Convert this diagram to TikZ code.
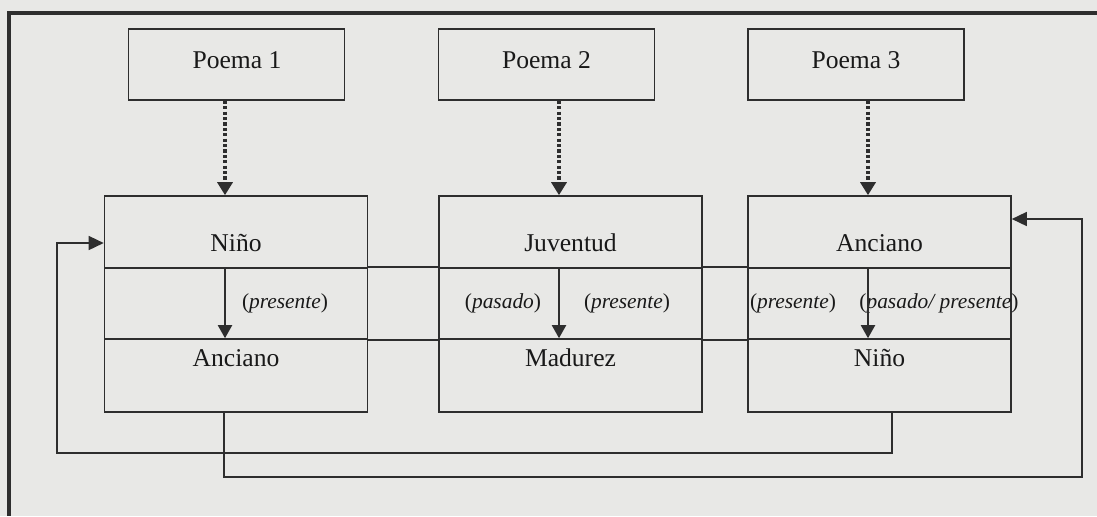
\documentclass[tikz,border=0pt]{standalone}
\usepackage{fontspec}
\setmainfont{Liberation Serif}
\usetikzlibrary{arrows.meta}
\definecolor{paper}{HTML}{E8E8E6}
\definecolor{ink}{HTML}{2E2E2E}
\begin{document}
\begin{tikzpicture}[x=0.5pt,y=-0.5pt,
  box/.style={draw=ink,line width=0.8pt,inner sep=0pt},
  poemabox/.style={box,minimum width=108pt,minimum height=35.5pt},
  rowbox/.style={box,minimum width=131.5pt},
  rowtop/.style={rowbox,minimum height=36pt},
  rowmid/.style={rowbox,minimum height=35.5pt},
  rowbot/.style={rowbox,minimum height=36.5pt},
  word/.style={font=\fontsize{12.8}{15}\selectfont,text=black!90,inner sep=0pt,anchor=base},
  tense/.style={font=\fontsize{10.7}{13}\selectfont,text=black!90,inner sep=0pt,anchor=base},
  dotarrow/.style={draw=ink,line width=1.8pt,dash pattern=on 1.6pt off 1.1pt,
    -{Triangle[length=6.5pt,width=7.5pt]}},
  solidarrow/.style={draw=ink,line width=1pt,-{Triangle[length=6.5pt,width=7pt]}},
  wire/.style={draw=ink,line width=0.75pt,-{Triangle[length=7.5pt,width=7pt]}},
  frame/.style={draw=ink,line width=1.7pt}
]
% paper and page frame
\fill[paper] (0,0) rectangle (1097,516);
\useasboundingbox (0,0) rectangle (1097,516);
\draw[frame] (1097,13) -- (9,13) -- (9,516);

% poems
\node[poemabox] (p1) at (236.5,64.5) {};
\node[poemabox] (p2) at (546.5,64.5) {};
\node[poemabox] (p3) at (856,64.5) {};
\node[word] (tp1) at (237,68) {Poema 1};
\node[word] (tp2) at (546.5,68) {Poema 2};
\node[word] (tp3) at (856,68) {Poema 3};

% three-row boxes
\foreach \i/\x in {1/236,2/570.5,3/879.5}{
  \node[rowtop] (b\i a) at (\x,232) {};
  \node[rowmid] (b\i b) at (\x,303.5) {};
  \node[rowbot] (b\i c) at (\x,375.5) {};
}
% band lines joining the middle rows
\draw[draw=ink,line width=0.8pt]
  (b1b.north east) -- (b2b.north west) (b1b.south east) -- (b2b.south west)
  (b2b.north east) -- (b3b.north west) (b2b.south east) -- (b3b.south west);

% stage names
\node[word] (n1) at (236,251) {Niño};
\node[word] (n2) at (570.5,251) {Juventud};
\node[word] (n3) at (879.5,251) {Anciano};
\node[word] (m1) at (236,366) {Anciano};
\node[word] (m2) at (570.5,366) {Madurez};
\node[word] (m3) at (879.5,366) {Niño};

% columns of the arrows
\coordinate (c1) at (225,0);
\coordinate (c2) at (559,0);
\coordinate (c3) at (868,0);

\draw[dotarrow] (p1.south -| c1) -- (b1a.north -| c1);
\draw[dotarrow] (p2.south -| c2) -- (b2a.north -| c2);
\draw[dotarrow] (p3.south -| c3) -- (b3a.north -| c3);

% tense labels
\node[tense] (l1) at (285,308) {(\textit{presente})};
\node[tense] (l2) at (503,308) {(\textit{pasado})};
\node[tense] (l3) at (627,308) {(\textit{presente})};
\node[tense] (l4) at (793,308) {(\textit{presente})};
\node[tense] (l5) at (939,308) {(\textit{pasado/ presente})};

\draw[solidarrow] (b1a.south -| c1) -- (b1c.north -| c1);
\draw[solidarrow] (b2a.south -| c2) -- (b2c.north -| c2);
\draw[solidarrow] (b3a.south -| c3) -- (b3c.north -| c3);

% return loops
\coordinate (k1) at (892,453);
\coordinate (k2) at (57,453);
\draw[wire] (b3c.south -| k1) -- (k1) -- (k2) |- ([yshift=-5.5pt]b1a.west);
\coordinate (q1) at (224,477);
\coordinate (q2) at (1082,477);
\draw[wire] (b1c.south -| q1) -- (q1) -- (q2) |- ([yshift=6.5pt]b3a.east);
\end{tikzpicture}
\end{document}
